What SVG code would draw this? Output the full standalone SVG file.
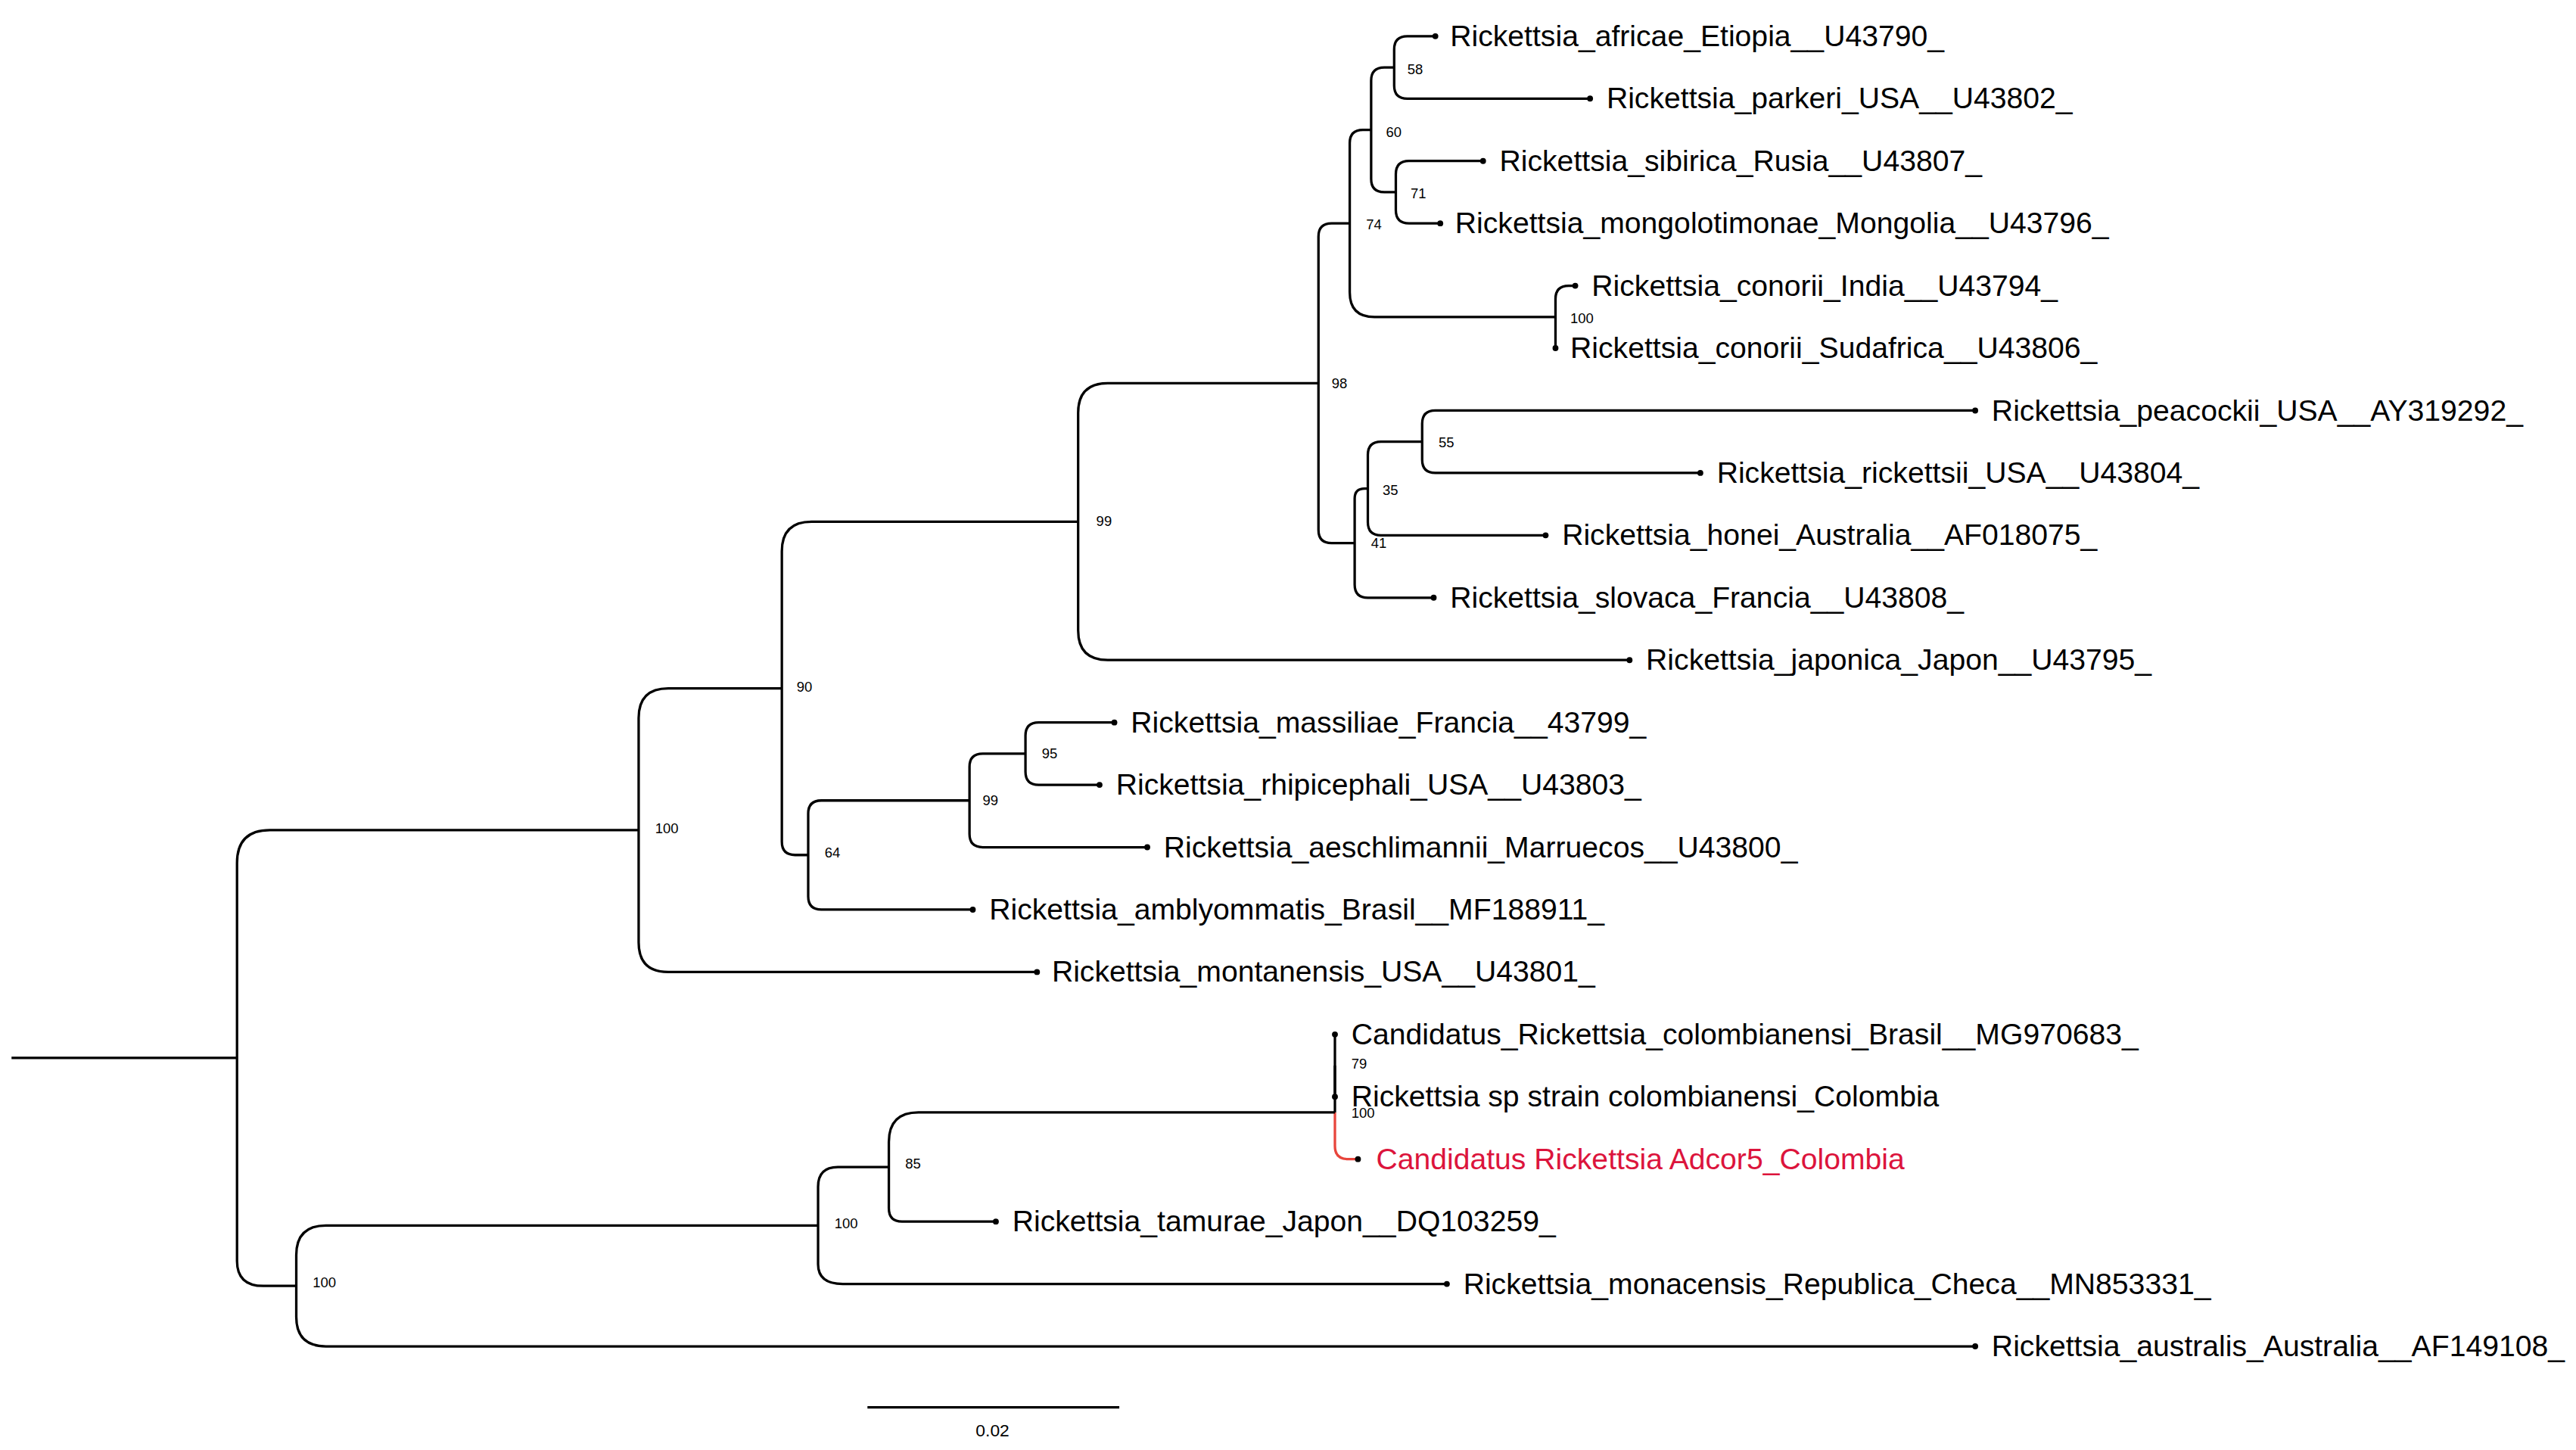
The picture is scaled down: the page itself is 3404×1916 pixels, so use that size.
<svg xmlns="http://www.w3.org/2000/svg" width="3404" height="1916" viewBox="0 0 3404 1916">
<style>
.e{fill:none;stroke:#000;stroke-width:1.5}
.r{fill:none;stroke:#e8453c;stroke-width:1.5}
.l{font-family:"Liberation Sans",Arial,sans-serif;font-size:18px;fill:#000}
.b{font-family:"Liberation Sans",Arial,sans-serif;font-size:8.5px;fill:#000}
.d{fill:#000}
</style>
<rect width="3404" height="1916" fill="#fff"/>
<g transform="scale(2.1751)">
<g id="connectors">
<path class="e" d="M847 41 V30 Q847 22 855 22 H872 M847 41 V51.9 Q847 59.9 855 59.9 H966"/>
<path class="e" d="M848 116.75 V105.8 Q848 97.8 856 97.8 H901 M848 116.75 V127.7 Q848 135.7 856 135.7 H875"/>
<path class="e" d="M833 78.9 V49 Q833 41 841 41 H847 M833 78.9 V108.75 Q833 116.75 841 116.75 H848"/>
<path class="e" d="M945 192.55 V181.6 Q945 173.6 953 173.6 H957 M945 192.55 V211.5"/>
<path class="e" d="M820 135.7 V86.9 Q820 78.9 828 78.9 H833 M820 135.7 V177.55 Q820 192.55 835 192.55 H945"/>
<path class="e" d="M864 268.35 V257.4 Q864 249.4 872 249.4 H1200 M864 268.35 V279.3 Q864 287.3 872 287.3 H1033"/>
<path class="e" d="M831 296.8 V276.35 Q831 268.35 839 268.35 H864 M831 296.8 V317.2 Q831 325.2 839 325.2 H939"/>
<path class="e" d="M823 329.9 V302.8 Q823 296.8 829 296.8 H831 M823 329.9 V355.1 Q823 363.1 831 363.1 H871"/>
<path class="e" d="M801 232.8 V143.7 Q801 135.7 809 135.7 H820 M801 232.8 V321.9 Q801 329.9 809 329.9 H823"/>
<path class="e" d="M655 316.9 V250.8 Q655 232.8 673 232.8 H801 M655 316.9 V383 Q655 401 673 401 H990"/>
<path class="e" d="M623 457.85 V446.9 Q623 438.9 631 438.9 H677 M623 457.85 V468.8 Q623 476.8 631 476.8 H668"/>
<path class="e" d="M589 486.3 V465.85 Q589 457.85 597 457.85 H623 M589 486.3 V506.7 Q589 514.7 597 514.7 H697"/>
<path class="e" d="M491 519.4 V494.3 Q491 486.3 499 486.3 H589 M491 519.4 V544.6 Q491 552.6 499 552.6 H591"/>
<path class="e" d="M475 418.2 V334.9 Q475 316.9 493 316.9 H655 M475 418.2 V511.4 Q475 519.4 483 519.4 H491"/>
<path class="e" d="M388 504.3 V436.2 Q388 418.2 406 418.2 H475 M388 504.3 V572.5 Q388 590.5 406 590.5 H630"/>
<path class="e" d="M811 647.35 V628.4 M811 647.35 V666.3"/>
<path class="e" d="M811 675.8 V647.35"/>
<path class="r" d="M811 675.8 V696.2 Q811 704.2 819 704.2 H825"/>
<path class="e" d="M540 709 V693.8 Q540 675.8 558 675.8 H811 M540 709 V734.1 Q540 742.1 548 742.1 H605"/>
<path class="e" d="M497 744.5 V721 Q497 709 509 709 H540 M497 744.5 V768 Q497 780 512 780 H879"/>
<path class="e" d="M180 781.2 V762.5 Q180 744.5 198 744.5 H497 M180 781.2 V800 Q180 817.9 198 817.9 H1200"/>
<path class="e" d="M144 642.7 V524.3 Q144 504.3 164 504.3 H388 M144 642.7 V766 Q144 781.2 160 781.2 H180"/>
<path class="e" d="M7 642.7 H144"/>
<path class="e" d="M527 855 H680"/>
</g>
<g id="tips" class="d">
<circle cx="872" cy="22" r="1.8"/><circle cx="966" cy="59.9" r="1.8"/><circle cx="901" cy="97.8" r="1.8"/><circle cx="875" cy="135.7" r="1.8"/><circle cx="957" cy="173.6" r="1.8"/><circle cx="945" cy="211.5" r="1.8"/><circle cx="1200" cy="249.4" r="1.8"/><circle cx="1033" cy="287.3" r="1.8"/><circle cx="939" cy="325.2" r="1.8"/><circle cx="871" cy="363.1" r="1.8"/><circle cx="990" cy="401" r="1.8"/><circle cx="677" cy="438.9" r="1.8"/><circle cx="668" cy="476.8" r="1.8"/><circle cx="697" cy="514.7" r="1.8"/><circle cx="591" cy="552.6" r="1.8"/><circle cx="630" cy="590.5" r="1.8"/><circle cx="811" cy="628.4" r="1.8"/><circle cx="811" cy="666.3" r="1.8"/><circle cx="825" cy="704.2" r="1.8"/><circle cx="605" cy="742.1" r="1.8"/><circle cx="879" cy="780" r="1.8"/><circle cx="1200" cy="817.9" r="1.8"/>
</g>
<g id="leaf-labels" class="l">
<text x="881" y="28">Rickettsia_africae_Etiopia__U43790_</text>
<text x="976" y="65.9">Rickettsia_parkeri_USA__U43802_</text>
<text x="911" y="103.8">Rickettsia_sibirica_Rusia__U43807_</text>
<text x="884" y="141.7">Rickettsia_mongolotimonae_Mongolia__U43796_</text>
<text x="967" y="179.6">Rickettsia_conorii_India__U43794_</text>
<text x="954" y="217.5">Rickettsia_conorii_Sudafrica__U43806_</text>
<text x="1210" y="255.4">Rickettsia_peacockii_USA__AY319292_</text>
<text x="1043" y="293.3">Rickettsia_rickettsii_USA__U43804_</text>
<text x="949" y="331.2">Rickettsia_honei_Australia__AF018075_</text>
<text x="881" y="369.1">Rickettsia_slovaca_Francia__U43808_</text>
<text x="1000" y="407">Rickettsia_japonica_Japon__U43795_</text>
<text x="687" y="444.9">Rickettsia_massiliae_Francia__43799_</text>
<text x="678" y="482.8">Rickettsia_rhipicephali_USA__U43803_</text>
<text x="707" y="520.7">Rickettsia_aeschlimannii_Marruecos__U43800_</text>
<text x="601" y="558.6">Rickettsia_amblyommatis_Brasil__MF188911_</text>
<text x="639" y="596.5">Rickettsia_montanensis_USA__U43801_</text>
<text x="821" y="634.4">Candidatus_Rickettsia_colombianensi_Brasil__MG970683_</text>
<text x="821" y="672.3">Rickettsia sp strain colombianensi_Colombia</text>
<text x="836" y="710.2" style="fill:#dc143c">Candidatus Rickettsia Adcor5_Colombia</text>
<text x="615" y="748.1">Rickettsia_tamurae_Japon__DQ103259_</text>
<text x="889" y="786">Rickettsia_monacensis_Republica_Checa__MN853331_</text>
<text x="1210" y="823.9">Rickettsia_australis_Australia__AF149108_</text>
</g>
<g id="bootstrap" class="b">
<text x="855" y="45">58</text><text x="857" y="120.5">71</text><text x="842" y="83">60</text><text x="954" y="196.5">100</text><text x="830" y="139.5">74</text>
<text x="874" y="271.5">55</text><text x="840" y="300.5">35</text><text x="833" y="333">41</text><text x="809" y="236">98</text><text x="666" y="319.5">99</text>
<text x="633" y="460.5">95</text><text x="597" y="489">99</text><text x="501" y="521">64</text><text x="484" y="420">90</text><text x="398" y="506">100</text>
<text x="821" y="649">79</text><text x="821" y="679">100</text><text x="550" y="710">85</text><text x="507" y="746">100</text><text x="190" y="782">100</text>
</g>
<g id="scale"><text class="b" x="603" y="872.5" text-anchor="middle" style="font-size:10.5px">0.02</text></g>
</g>
</svg>
